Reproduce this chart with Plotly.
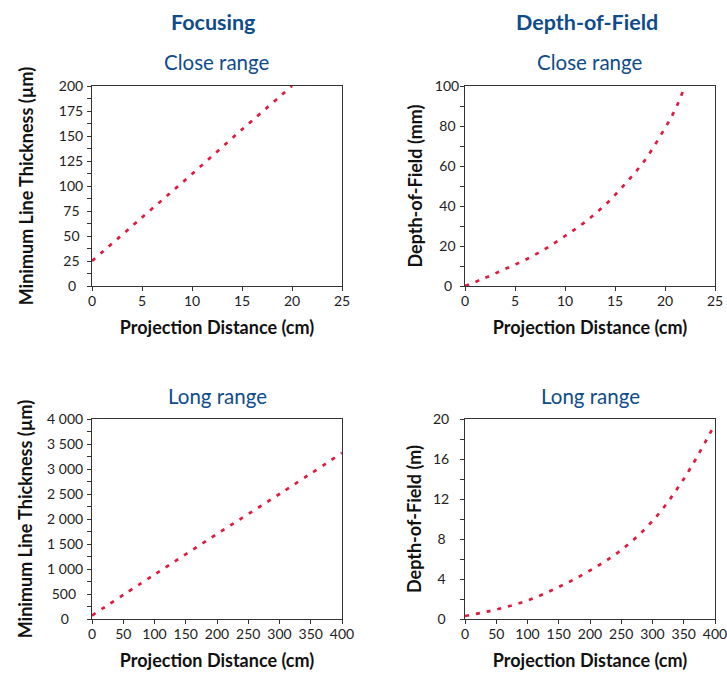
import plotly.graph_objects as go

# ---- data ----
focus_close_x = [0, 5, 10, 15, 20]
focus_close_y = [25, 68.5, 112, 156.5, 200]

dof_close_x = [0, 2, 4, 6, 8, 10, 12, 14, 16, 18, 20, 21, 22]
dof_close_y = [0, 4, 8.5, 13, 18.5, 25, 32, 40.5, 51, 63, 79, 88, 100]

focus_long_x = [0, 100, 200, 300, 400]
focus_long_y = [70, 890, 1700, 2500, 3320]

dof_long_x = [0, 50, 100, 150, 200, 250, 300, 350, 400]
dof_long_y = [0.3, 0.95, 1.85, 3.2, 4.85, 6.9, 9.8, 14, 19.5]

# y tick values / labels
yt_focus_close = [0, 25, 50, 75, 100, 125, 150, 175, 200]
yl_focus_close = ["0", "25", "50", "75", "100", "125", "150", "175", "200"]
yt_dof_close = [0, 20, 40, 60, 80, 100]
yl_dof_close = ["0", "20", "40", "60", "80", "100"]
yt_focus_long = [0, 500, 1000, 1500, 2000, 2500, 3000, 3500, 4000]
yl_focus_long = ["0", "500", "1 000", "1 500", "2 000", "2 500", "3 000", "3 500", "4 000"]
yt_dof_long = [0, 4, 8, 12, 16, 20]
yl_dof_long = ["0", "4", "8", "12", "16", "20"]

col_titles = ["Focusing", "Depth-of-Field"]
row_titles = ["Close range", "Long range"]
x_title = "Projection Distance (cm)"
y_titles = ["Minimum Line Thickness (µm)", "Depth-of-Field (mm)",
            "Minimum Line Thickness (µm)", "Depth-of-Field (m)"]

W, H = 727, 673
FONT = "Lato"
BLUE = "#0f4c8a"
RED = "#e01a3f"
AX = "#333333"


def centre_labels(labels):
    """Pad labels so that they appear centred in the tick-label column."""
    def w(s):
        return sum(0.45 if c == " " else 1.0 for c in s)
    mw = max(w(s) for s in labels)
    out = []
    for s in labels:
        n = int(round((mw - w(s)) / 2 / 0.45))
        out.append(s + "\u00a0" * n)
    return out


fig = go.Figure()

panels = [
    (focus_close_x, focus_close_y, "x", "y"),
    (dof_close_x, dof_close_y, "x2", "y2"),
    (focus_long_x, focus_long_y, "x3", "y3"),
    (dof_long_x, dof_long_y, "x4", "y4"),
]
for xs, ys, xa, ya in panels:
    fig.add_trace(go.Scatter(x=xs, y=ys, xaxis=xa, yaxis=ya, mode="lines",
                             line=dict(color=RED, width=2.7, dash="4px,7px", shape="spline"),
                             showlegend=False, hoverinfo="skip"))


def px_x(p):
    return p / W


def px_y(p):
    return 1 - p / H


xdom_l = [px_x(92), px_x(342)]
xdom_r = [px_x(465), px_x(715)]
ydom_t = [px_y(286), px_y(86)]
ydom_b = [px_y(619), px_y(419)]

tickfont = dict(family=FONT, size=14, color="#222222")
titlefont = dict(family=FONT, size=18, color="#111111")


def xaxis(dom, anchor, rng, dtick):
    return dict(domain=dom, anchor=anchor, range=rng, dtick=dtick, tick0=0,
                automargin=False,
                showline=True, mirror=True, linecolor=AX, linewidth=1,
                ticks="outside", ticklen=4, tickcolor=AX, tickwidth=1,
                showgrid=False, zeroline=False, tickfont=tickfont,
                ticklabelstandoff=-2, ticklabeloverflow="allow",
                title=dict(text="<b>" + x_title + "</b>", font=titlefont, standoff=13))


def yaxis(dom, anchor, rng, vals, labels, minor, title, standoff, lstand):
    return dict(domain=dom, anchor=anchor, range=rng,
                tickmode="array", tickvals=vals, ticktext=centre_labels(labels),
                automargin=False,
                showline=True, mirror=True, linecolor=AX, linewidth=1,
                ticks="outside", ticklen=4, tickcolor=AX, tickwidth=1,
                minor=dict(ticks="outside", ticklen=4, dtick=minor, tick0=0,
                           tickcolor=AX, tickwidth=1),
                showgrid=False, zeroline=False, tickfont=tickfont,
                ticklabelstandoff=lstand, ticklabeloverflow="allow",
                title=dict(text="<b>" + title + "</b>", font=titlefont, standoff=standoff))


fig.update_layout(
    width=W, height=H,
    margin=dict(l=0, r=0, t=0, b=0, autoexpand=False),
    paper_bgcolor="white", plot_bgcolor="white",
    xaxis=xaxis(xdom_l, "y", [0, 25], 5),
    yaxis=yaxis(ydom_t, "x", [0, 200], yt_focus_close, yl_focus_close, 12.5, y_titles[0], 20, 1),
    xaxis2=xaxis(xdom_r, "y2", [0, 25], 5),
    yaxis2=yaxis(ydom_t, "x2", [0, 100], yt_dof_close, yl_dof_close, 10, y_titles[1], 7, -2),
    xaxis3=xaxis(xdom_l, "y3", [0, 400], 50),
    yaxis3=yaxis(ydom_b, "x3", [0, 4000], yt_focus_long, yl_focus_long, 250, y_titles[2], 9, 1),
    xaxis4=xaxis(xdom_r, "y4", [0, 400], 50),
    yaxis4=yaxis(ydom_b, "x4", [0, 20], yt_dof_long, yl_dof_long, 2, y_titles[3], 6, 8),
)

# column headers
for cx, txt in [(213, col_titles[0]), (587, col_titles[1])]:
    fig.add_annotation(x=px_x(cx), y=px_y(22), xref="paper", yref="paper",
                       text="<b>" + txt + "</b>", showarrow=False,
                       xanchor="center", yanchor="middle",
                       font=dict(family=FONT, size=21.5, color=BLUE))

# panel titles
for cx in [217, 590]:
    for cy, txt in [(62, row_titles[0]), (396, row_titles[1])]:
        fig.add_annotation(x=px_x(cx), y=px_y(cy), xref="paper", yref="paper",
                           text=txt, showarrow=False,
                           xanchor="center", yanchor="middle",
                           font=dict(family=FONT, size=20.5, color=BLUE))

fig.write_html("out.html", config={"displayModeBar": False},
               post_script="document.body.style.margin='0px';")
